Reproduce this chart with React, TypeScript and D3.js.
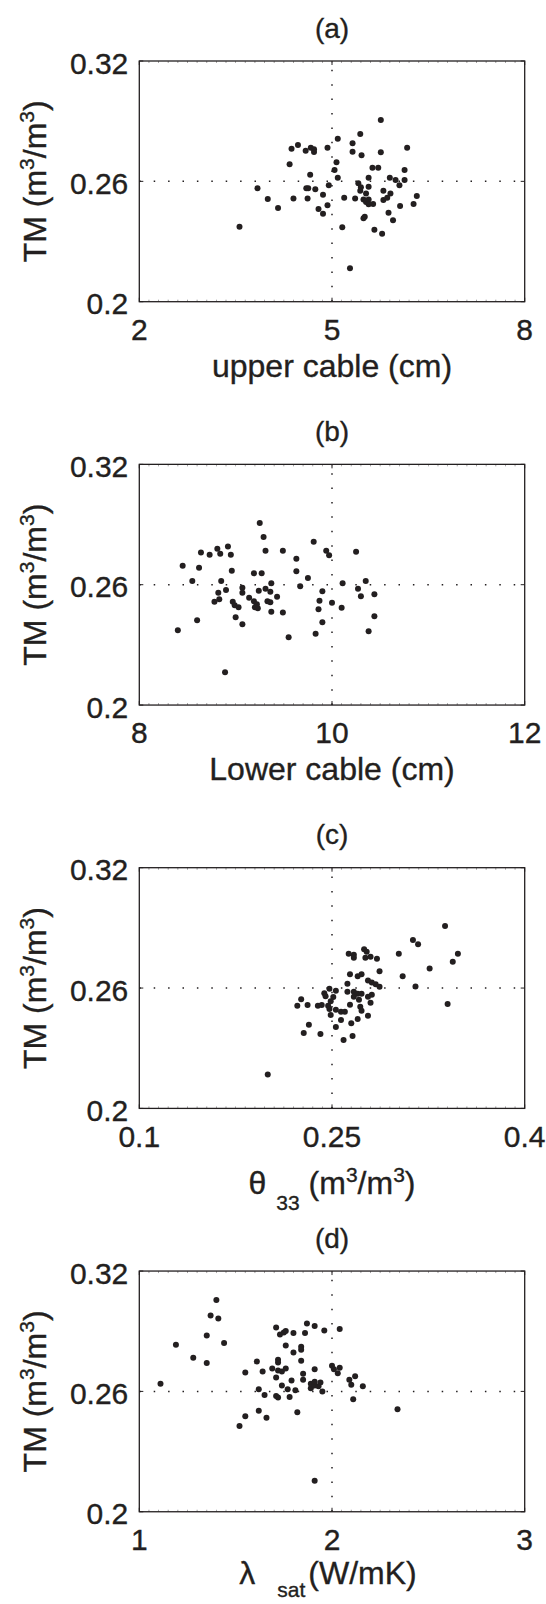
import React from "react";
import * as d3 from "d3";

// ---------- data ----------
const yTicks = [0.2, 0.26, 0.32];
const yTickLabels = ["0.2", "0.26", "0.32"];

const titles = ["(a)", "(b)", "(c)", "(d)"];

const xTicksA = [2, 5, 8];
const xTickLabelsA = ["2", "5", "8"];
const xA = [5.76,5.44,5.09,5.32,4.47,4.37,4.67,4.72,4.59,4.72,4.93,5.32,5.46,5.76,6.17,4.34,5.07,5.04,4.66,5.09,5.63,5.72,6.13,5.90,5.57,5.99,6.13,3.84,4.60,4.63,4.74,4.95,5.41,5.45,5.57,5.44,5.53,6.05,5.80,5.91,4.00,4.40,4.62,4.86,5.19,5.36,5.49,5.57,5.53,5.57,5.64,5.80,5.86,6.32,6.27,6.06,4.16,4.79,4.93,4.86,5.88,5.51,5.49,5.95,3.56,5.16,5.66,5.78,5.28];
const yA = [0.2906,0.2836,0.2813,0.2790,0.2781,0.2763,0.2768,0.2760,0.2753,0.2746,0.2768,0.2748,0.2730,0.2745,0.2768,0.2685,0.2695,0.2657,0.2633,0.2618,0.2668,0.2668,0.2657,0.2618,0.2618,0.2607,0.2607,0.2565,0.2565,0.2565,0.2560,0.2580,0.2590,0.2570,0.2573,0.2553,0.2540,0.2580,0.2553,0.2540,0.2512,0.2515,0.2515,0.2533,0.2518,0.2515,0.2510,0.2510,0.2497,0.2486,0.2487,0.2507,0.2518,0.2527,0.2487,0.2477,0.2467,0.2462,0.2481,0.2439,0.2444,0.2424,0.2416,0.2406,0.2374,0.2371,0.2359,0.2339,0.2167];

const xTicksB = [8, 10, 12];
const xTickLabelsB = ["8", "10", "12"];
const xB = [9.25,9.29,9.31,9.49,9.81,9.94,9.97,10.25,8.92,8.81,8.84,8.95,8.64,8.73,8.45,8.62,8.96,9.19,9.27,9.63,9.63,9.75,8.55,8.85,9.37,9.67,10.11,10.35,8.90,8.82,9.07,9.07,9.24,9.31,9.36,9.43,8.83,8.78,8.97,9.14,9.90,10.27,10.30,10.44,8.99,9.03,9.19,9.22,9.20,9.23,9.33,9.36,9.87,10.00,9.37,9.49,9.86,10.10,9.00,8.60,9.07,9.90,10.44,8.40,9.83,10.38,9.55,8.89];
const yB = [0.2908,0.2838,0.2769,0.2769,0.2814,0.2769,0.2747,0.2764,0.2791,0.2779,0.2754,0.2749,0.2760,0.2749,0.2695,0.2684,0.2669,0.2657,0.2657,0.2729,0.2667,0.2634,0.2619,0.2619,0.2607,0.2592,0.2607,0.2619,0.2573,0.2560,0.2585,0.2560,0.2570,0.2580,0.2565,0.2540,0.2527,0.2515,0.2515,0.2535,0.2567,0.2580,0.2542,0.2553,0.2498,0.2488,0.2517,0.2503,0.2487,0.2482,0.2517,0.2512,0.2520,0.2510,0.2465,0.2462,0.2477,0.2485,0.2438,0.2423,0.2403,0.2413,0.2443,0.2373,0.2356,0.2368,0.2338,0.2164];

const xTicksC = [0.1, 0.25, 0.4];
const xTickLabelsC = ["0.1", "0.25", "0.4"];
const xC = [0.338,0.313,0.317,0.348,0.344,0.326,0.302,0.275,0.277,0.263,0.267,0.267,0.276,0.280,0.285,0.287,0.264,0.270,0.273,0.305,0.278,0.281,0.284,0.287,0.262,0.315,0.248,0.244,0.253,0.262,0.267,0.270,0.273,0.281,0.278,0.267,0.271,0.245,0.251,0.226,0.223,0.231,0.239,0.242,0.247,0.249,0.280,0.264,0.272,0.340,0.248,0.253,0.257,0.260,0.273,0.249,0.278,0.257,0.270,0.265,0.232,0.253,0.228,0.241,0.266,0.259,0.200];
const yC = [0.2909,0.2839,0.2818,0.2771,0.2731,0.2698,0.2771,0.2793,0.2781,0.2771,0.2766,0.2751,0.2751,0.2756,0.2746,0.2684,0.2669,0.2659,0.2669,0.2659,0.2638,0.2628,0.2619,0.2606,0.2621,0.2608,0.2596,0.2574,0.2587,0.2581,0.2581,0.2571,0.2571,0.2567,0.2557,0.2557,0.2542,0.2559,0.2556,0.2544,0.2512,0.2516,0.2512,0.2516,0.2512,0.2534,0.2527,0.2517,0.2507,0.2521,0.2496,0.2492,0.2482,0.2482,0.2487,0.2466,0.2462,0.2441,0.2446,0.2424,0.2417,0.2406,0.2376,0.2371,0.2361,0.2341,0.2169];

const xTicksD = [1, 2, 3];
const xTickLabelsD = ["1", "2", "3"];
const xD = [1.40,1.37,1.41,1.35,1.44,1.19,1.28,1.35,1.11,1.71,1.87,1.91,1.96,2.04,1.73,1.75,1.76,1.80,1.86,1.76,1.80,1.84,1.84,1.61,1.72,1.72,1.84,1.55,1.64,1.69,1.72,1.74,1.76,1.85,1.91,2.00,2.01,2.03,2.04,1.71,1.79,1.85,1.74,1.77,1.81,1.89,1.89,1.91,1.93,1.94,1.91,1.95,2.09,2.12,2.10,2.16,1.62,1.65,1.71,1.72,1.78,2.11,1.62,1.55,1.66,1.82,1.52,1.91,2.34];
const yD = [0.3056,0.2979,0.2963,0.2879,0.2841,0.2833,0.2768,0.2741,0.2638,0.2918,0.2938,0.2926,0.2903,0.2911,0.2884,0.2894,0.2901,0.2891,0.2891,0.2829,0.2794,0.2823,0.2808,0.2749,0.2758,0.2744,0.2753,0.2694,0.2699,0.2714,0.2704,0.2699,0.2714,0.2688,0.2711,0.2728,0.2711,0.2691,0.2718,0.2669,0.2654,0.2658,0.2629,0.2611,0.2606,0.2616,0.2638,0.2629,0.2626,0.2644,0.2648,0.2599,0.2658,0.2676,0.2633,0.2626,0.2611,0.2582,0.2577,0.2569,0.2572,0.2561,0.2504,0.2476,0.2469,0.2496,0.2427,0.2154,0.2511];

// ---------- layout / style ----------
const FONT = "'Liberation Sans', Arial, Helvetica, sans-serif";
const INK = "#231f20";
const W = 546;
const H = 1604;
const LEFT = 139.3;
const PW = 385.4;
const PH = 240.7;
const TOP0 = 61;
const STEP = 403.35;
const TICK_FS = 30;
const LABEL_FS = 32;
const TITLE_FS = 28;
const SUP_FS = 21;
const TEXT_STROKE = 0.35;

type PanelProps = {
  top: number;
  title: string;
  xTicks: number[];
  xTickLabels: string[];
  xs: number[];
  ys: number[];
  xLabel: (cx: number, bottom: number) => React.ReactNode;
};

function Panel({ top, title, xTicks, xTickLabels, xs, ys, xLabel }: PanelProps) {
  const x = d3.scaleLinear().domain([xTicks[0], xTicks[2]]).range([LEFT, LEFT + PW]);
  const y = d3.scaleLinear().domain([yTicks[0], yTicks[2]]).range([top + PH, top]);
  const bottom = top + PH;
  const right = LEFT + PW;
  const cx = x(xTicks[1]);
  const cy = y(yTicks[1]);
  const minorX = d3.range(1, 40).map((i) => LEFT + (i * PW) / 40);
  const midY = top + PH / 2;
  return (
    <g>
      <text x={cx} y={top - 23.5} textAnchor="middle" fontSize={TITLE_FS} fill={INK} stroke={INK} strokeWidth={TEXT_STROKE}>
        {title}
      </text>
      {/* grid (dotted) */}
      <line x1={LEFT} x2={right} y1={cy} y2={cy} stroke={INK} strokeWidth={1.5} strokeDasharray="1.5 12.9" />
      <line x1={cx} x2={cx} y1={bottom} y2={top} stroke={INK} strokeWidth={1.5} strokeDasharray="1.5 12.9" />
      {/* minor ticks */}
      {minorX.map((mx, i) => (
        <g key={"m" + i} stroke={INK} strokeWidth={0.6} opacity={0.7}>
          <line x1={mx} x2={mx} y1={bottom} y2={bottom - 2} />
          <line x1={mx} x2={mx} y1={top} y2={top + 2} />
        </g>
      ))}
      {/* major ticks */}
      {xTicks.map((t, i) => (
        <g key={"xt" + i} stroke={INK} strokeWidth={1}>
          <line x1={x(t)} x2={x(t)} y1={bottom} y2={bottom - 4} />
          <line x1={x(t)} x2={x(t)} y1={top} y2={top + 4} />
        </g>
      ))}
      {yTicks.map((t, i) => (
        <g key={"yt" + i} stroke={INK} strokeWidth={1}>
          <line x1={LEFT} x2={LEFT + 4} y1={y(t)} y2={y(t)} />
          <line x1={right} x2={right - 4} y1={y(t)} y2={y(t)} />
        </g>
      ))}
      {/* points */}
      {xs.map((v, i) => (
        <circle key={"p" + i} cx={x(v)} cy={y(ys[i])} r={3} fill={INK} />
      ))}
      {/* frame */}
      <rect x={LEFT} y={top} width={PW} height={PH} fill="none" stroke={INK} strokeWidth={1.3} />
      {/* tick labels */}
      <g fill={INK} stroke={INK} strokeWidth={TEXT_STROKE} fontSize={TICK_FS}>
        {xTicks.map((t, i) => (
          <text key={"xl" + i} x={x(t)} y={bottom + 38.3} textAnchor="middle">
            {xTickLabels[i]}
          </text>
        ))}
        {yTicks.map((t, i) => (
          <text key={"yl" + i} x={LEFT - 11} y={y(t) + 12.5} textAnchor="end">
            {yTickLabels[i]}
          </text>
        ))}
      </g>
      {/* y label */}
      <text
        transform={`translate(45.5,${midY}) rotate(-90)`}
        textAnchor="middle"
        fontSize={LABEL_FS}
        fill={INK}
        stroke={INK}
        strokeWidth={TEXT_STROKE}
      >
        <tspan>TM (m</tspan>
        <tspan fontSize={SUP_FS} dy={-12}>3</tspan>
        <tspan dy={12}>/m</tspan>
        <tspan fontSize={SUP_FS} dy={-12}>3</tspan>
        <tspan dy={12}>)</tspan>
      </text>
      <g stroke={INK} strokeWidth={TEXT_STROKE}>{xLabel(cx, bottom)}</g>
    </g>
  );
}

const labelA = (cx: number, bottom: number) => (
  <text x={cx} y={bottom + 75} textAnchor="middle" fontSize={LABEL_FS} fill={INK}>
    upper cable (cm)
  </text>
);
const labelB = (cx: number, bottom: number) => (
  <text x={cx} y={bottom + 75} textAnchor="middle" fontSize={LABEL_FS} fill={INK}>
    Lower cable (cm)
  </text>
);
const labelC = (cx: number, bottom: number) => (
  <text x={cx} y={bottom + 86} textAnchor="middle" fontSize={LABEL_FS} fill={INK}>
    <tspan>θ</tspan>
    <tspan fontSize={SUP_FS} dx={10} dy={16}>33</tspan>
    <tspan dy={-16}> (m</tspan>
    <tspan fontSize={SUP_FS} dy={-12}>3</tspan>
    <tspan dy={12}>/m</tspan>
    <tspan fontSize={SUP_FS} dy={-12}>3</tspan>
    <tspan dy={12}>)</tspan>
  </text>
);
const labelD = (cx: number, bottom: number) => (
  <text x={cx - 4} y={bottom + 72} textAnchor="middle" fontSize={LABEL_FS} fill={INK}>
    <tspan>λ</tspan>
    <tspan fontSize={SUP_FS} dx={22} dy={13}>sat</tspan>
    <tspan dx={3} dy={-13}>(W/mK)</tspan>
  </text>
);

const panels = [
  { xTicks: xTicksA, xTickLabels: xTickLabelsA, xs: xA, ys: yA, xLabel: labelA },
  { xTicks: xTicksB, xTickLabels: xTickLabelsB, xs: xB, ys: yB, xLabel: labelB },
  { xTicks: xTicksC, xTickLabels: xTickLabelsC, xs: xC, ys: yC, xLabel: labelC },
  { xTicks: xTicksD, xTickLabels: xTickLabelsD, xs: xD, ys: yD, xLabel: labelD },
];

export default function App() {
  return (
    <svg
      width={W}
      height={H}
      viewBox={`0 0 ${W} ${H}`}
      style={{ position: "absolute", left: 0, top: 0, background: "#fff", fontFamily: FONT }}
    >
      <rect width={W} height={H} fill="#fff" />
      {panels.map((p, i) => (
        <Panel key={i} top={TOP0 + i * STEP} title={titles[i]} {...p} />
      ))}
    </svg>
  );
}
